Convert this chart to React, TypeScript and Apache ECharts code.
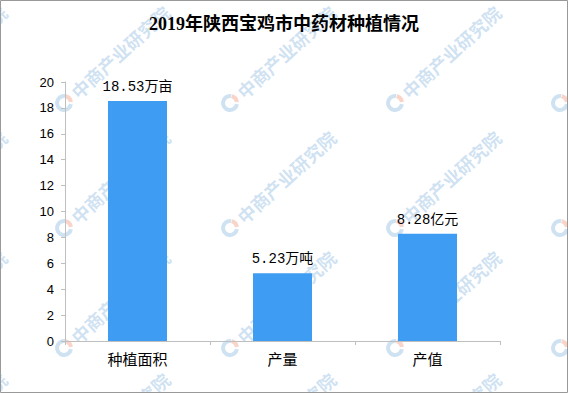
import React, { useEffect, useRef } from "react";
import * as echarts from "echarts";

const titleText = "2019年陕西宝鸡市中药材种植情况";
const categories = ["种植面积", "产量", "产值"];
const values = [18.53, 5.23, 8.28];
const units = ["万亩", "万吨", "亿元"];
const yTicks = { min: 0, max: 20, interval: 2 };
const watermarkText = "中商产业研究院";
const wmCols = [-99, 64, 230, 395, 560];
const wmRows = [-20, 103, 228, 348, 470];

function watermark(x: number, y: number) {
  return {
    type: "group",
    x,
    y,
    rotation: 0.74,
    silent: true,
    z: 100,
    children: [
      {
        type: "arc",
        shape: { cx: 0, cy: 0, r: 7, startAngle: 0.9, endAngle: 5.6, clockwise: true },
        style: { stroke: "rgba(140,185,225,0.42)", lineWidth: 4, fill: "none" },
      },
      {
        type: "arc",
        shape: { cx: 0, cy: 0, r: 7, startAngle: -0.6, endAngle: 0.6, clockwise: true },
        style: { stroke: "rgba(240,150,120,0.4)", lineWidth: 4, fill: "none" },
      },
      {
        type: "text",
        x: 13,
        y: 0,
        style: {
          text: watermarkText,
          fill: "rgba(140,185,225,0.42)",
          font: "bold 18px 'Noto Sans CJK SC'",
          verticalAlign: "middle",
          align: "left",
        },
      },
    ],
  };
}

export default function App() {
  const ref = useRef<HTMLDivElement>(null);
  useEffect(() => {
    if (!ref.current) return;
    const chart = echarts.init(ref.current, null, { renderer: "svg" });
    const wms: any[] = [];
    wmRows.forEach((y) => wmCols.forEach((x) => wms.push(watermark(x, y))));
    chart.setOption({
      animation: false,
      backgroundColor: "#ffffff",
      title: {
        text: titleText,
        left: "center",
        top: 10,
        textStyle: {
          fontSize: 18,
          fontWeight: "bold",
          color: "#000",
          fontFamily: "'Liberation Serif', 'Noto Sans CJK SC'",
        },
      },
      grid: { left: 65, right: 68, top: 82, bottom: 52, containLabel: false },
      xAxis: {
        type: "category",
        data: categories,
        axisLine: { lineStyle: { color: "#bfbfbf", width: 1 } },
        axisTick: { show: true, length: 4, lineStyle: { color: "#bfbfbf" } },
        axisLabel: {
          color: "#000",
          fontSize: 15,
          margin: 10,
          fontFamily: "'Noto Sans CJK SC'",
        },
      },
      yAxis: {
        type: "value",
        min: yTicks.min,
        max: yTicks.max,
        interval: yTicks.interval,
        axisLine: { show: true, lineStyle: { color: "#bfbfbf", width: 1 } },
        axisTick: { show: true, length: 4, lineStyle: { color: "#bfbfbf" } },
        splitLine: { show: false },
        axisLabel: {
          color: "#000",
          fontSize: 13,
          margin: 11,
          fontFamily: "'Liberation Sans'",
        },
      },
      series: [
        {
          type: "bar",
          data: values,
          barWidth: 59,
          itemStyle: { color: "#3e9cf2" },
          label: {
            show: true,
            position: "top",
            distance: 7,
            color: "#000",
            fontSize: 14,
            fontFamily: "'Liberation Mono', 'Noto Sans CJK SC'",
            formatter: (p: any) => `${values[p.dataIndex].toFixed(2)}${units[p.dataIndex]}`,
          },
        },
      ],
      graphic: [
        ...wms,
        {
          type: "rect",
          silent: true,
          z: 200,
          shape: { x: 0.5, y: 0.5, width: 567, height: 392 },
          style: { fill: "none", stroke: "#999999", lineWidth: 1 },
        },
      ],
    });
    return () => chart.dispose();
  }, []);
  return (
    <div
      ref={ref}
      style={{ position: "fixed", left: 0, top: 0, width: 568, height: 393 }}
    />
  );
}
